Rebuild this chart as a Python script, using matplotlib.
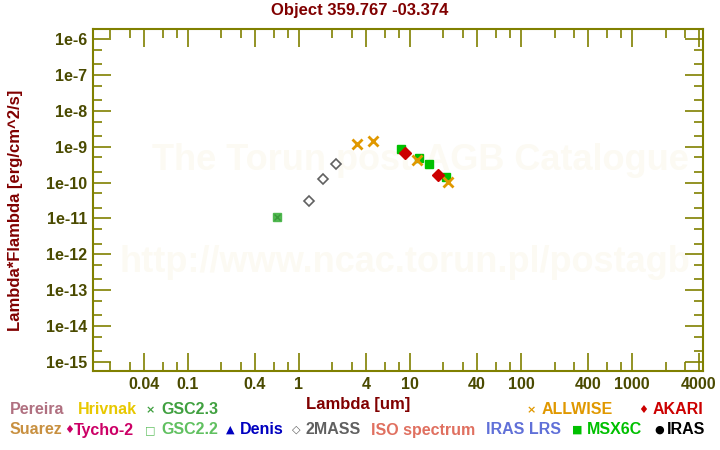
import numpy as np
import matplotlib
matplotlib.use("Agg")
import matplotlib.pyplot as plt
from matplotlib.ticker import FixedLocator, FixedFormatter

plt.rcParams['font.family'] = ['Liberation Sans', 'DejaVu Sans']

# photometry (wavelength in um, lambda*F_lambda in erg/cm^2/s)
gsc23_wl = [0.63]
gsc23_flux = [1.07e-11]

twomass_wl = [1.22, 1.65, 2.14]
twomass_flux = [3.1e-11, 1.26e-10, 3.3e-10]

msx_wl = [8.3, 12.1, 14.7, 21.3]
msx_flux = [8.7e-10, 4.7e-10, 3.3e-10, 1.4e-10]

akari_wl = [9.0, 18.0]
akari_flux = [6.7e-10, 1.67e-10]

allwise_wl = [3.35, 4.6, 11.6, 22.0]
allwise_flux = [1.19e-9, 1.44e-9, 4.3e-10, 1.07e-10]

x_major = [0.04, 0.1, 0.4, 1, 4, 10, 40, 100, 400, 1000, 4000]
x_labels = ["0.04", "0.1", "0.4", "1", "4", "10", "40", "100", "400", "1000", "4000"]
y_exponents = [-6, -7, -8, -9, -10, -11, -12, -13, -14, -15]

AXIS = "#808000"
TICKLAB = "#4a4a00"
DARKRED = "#800000"
WATERMARK = "#fcfaf3"


def setup_axes(ax):
    ax.set_xscale("log")
    ax.set_yscale("log")
    ax.set_xlim(0.014, 4300)
    ax.set_ylim(10 ** -15.25, 10 ** -5.73)

    ax.xaxis.set_major_locator(FixedLocator(x_major))
    ax.xaxis.set_major_formatter(FixedFormatter(x_labels))
    x_minor = [m * 10.0 ** e for e in range(-2, 4) for m in (2, 3, 6, 8)]
    ax.xaxis.set_minor_locator(FixedLocator(x_minor))
    ax.xaxis.set_minor_formatter(FixedFormatter([""] * len(x_minor)))

    y_major = [10.0 ** e for e in y_exponents]
    ax.yaxis.set_major_locator(FixedLocator(y_major))
    ax.yaxis.set_major_formatter(FixedFormatter([f"1e{e}" for e in y_exponents]))
    y_minor = [m * 10.0 ** e for e in range(-16, -5) for m in (2, 5)]
    ax.yaxis.set_minor_locator(FixedLocator(y_minor))
    ax.yaxis.set_minor_formatter(FixedFormatter([""] * len(y_minor)))

    ax.tick_params(which="both", direction="in", top=True, right=True,
                   color=AXIS, width=1.2)
    ax.tick_params(which="major", length=13, labelsize=11.5, labelcolor=TICKLAB, pad=4)
    ax.tick_params(which="minor", length=6.5)
    for lab in ax.get_xticklabels() + ax.get_yticklabels():
        lab.set_fontweight("bold")
    for sp in ax.spines.values():
        sp.set_color(AXIS)
        sp.set_linewidth(1.5)


def draw_legend(fig):
    # (symbol x, symbol, label x, label, colour) for the catalogue key under the plot
    row1 = [
        (None, "", 10, "Pereira", "#b07080"),
        (None, "", 78, "Hrivnak", "#e8c800"),
        (146, "\u00d7", 161, "GSC2.3", "#40a040"),
        (527, "\u00d7", 542, "ALLWISE", "#e09800"),
        (638, "\u2666", 653, "AKARI", "#cc0000"),
    ]
    row2 = [
        (None, "", 10, "Suarez", "#c89040"),
        (64, "\u2666", 74, "Tycho-2", "#cc0066"),
        (145, "\u25a1", 161, "GSC2.2", "#60c060"),
        (226, "\u25b2", 240, "Denis", "#0000c0"),
        (292, "\u25c7", 305, "2MASS", "#606060"),
        (None, "", 371, "ISO spectrum", "#e07060"),
        (None, "", 486, "IRAS LRS", "#6070d8"),
        (572, "\u25a0", 587, "MSX6C", "#00c000"),
        (654, "\u25cf", 667, "IRAS", "#000000"),
    ]
    for y, row in ((410, row1), (430, row2)):
        for sx, sym, lx, txt, col in row:
            if sx is not None:
                fig.text(sx / 720, 1 - y / 450, sym, color=col, fontsize=8,
                         fontweight="bold", ha="left", va="center",
                         family=["DejaVu Sans"])
            fig.text(lx / 720, 1 - y / 450, txt, color=col, fontsize=11.5,
                     fontweight="bold", ha="left", va="center")


def main():
    fig = plt.figure(figsize=(7.2, 4.5), dpi=100)
    ax = fig.add_axes([93 / 720, 1 - 371 / 450, (702.5 - 93) / 720, (371 - 29.3) / 450])
    setup_axes(ax)

    # faint watermark, kept under the data marks
    ax.text(420 / 720, 1 - 160 / 450, "The Torun post-AGB Catalogue", color=WATERMARK,
            fontsize=26, fontweight="bold", ha="center", va="center", zorder=0.5,
            transform=fig.transFigure)
    ax.text(405 / 720, 1 - 262 / 450, "http://www.ncac.torun.pl/postagb", color=WATERMARK,
            fontsize=26, fontweight="bold", ha="center", va="center", zorder=0.5,
            transform=fig.transFigure)

    ax.plot(gsc23_wl, gsc23_flux, "s", color="#50b850", markersize=6, zorder=3)
    ax.plot(gsc23_wl, gsc23_flux, "x", color="#3a9a3a", markersize=4, mew=1, zorder=4)
    ax.plot(twomass_wl, twomass_flux, "D", mfc="white", mec="#606060", markersize=5.5,
            mew=1.2, zorder=3)
    ax.plot(msx_wl, msx_flux, "s", color="#00c000", markersize=6, zorder=3)
    ax.plot(akari_wl, akari_flux, "D", color="#cc0000", markersize=6, zorder=4)
    ax.plot(allwise_wl, allwise_flux, "x", color="#e09800", markersize=6.5, mew=2, zorder=5)

    fig.text(360 / 720, 1 - 11 / 450, "Object 359.767 -03.374", color=DARKRED, fontsize=12,
             fontweight="bold", ha="center", va="center")
    fig.text(358 / 720, 1 - 404 / 450, "Lambda [um]", color=DARKRED, fontsize=12,
             fontweight="bold", ha="center", va="center")
    fig.text(16 / 720, 1 - 210 / 450, "Lambda*Flambda [erg/cm^2/s]", color=DARKRED,
             fontsize=12, fontweight="bold", ha="center", va="center", rotation=90)

    draw_legend(fig)
    fig.savefig("out.png", dpi=100)
    plt.close(fig)


if __name__ == "__main__":
    main()
